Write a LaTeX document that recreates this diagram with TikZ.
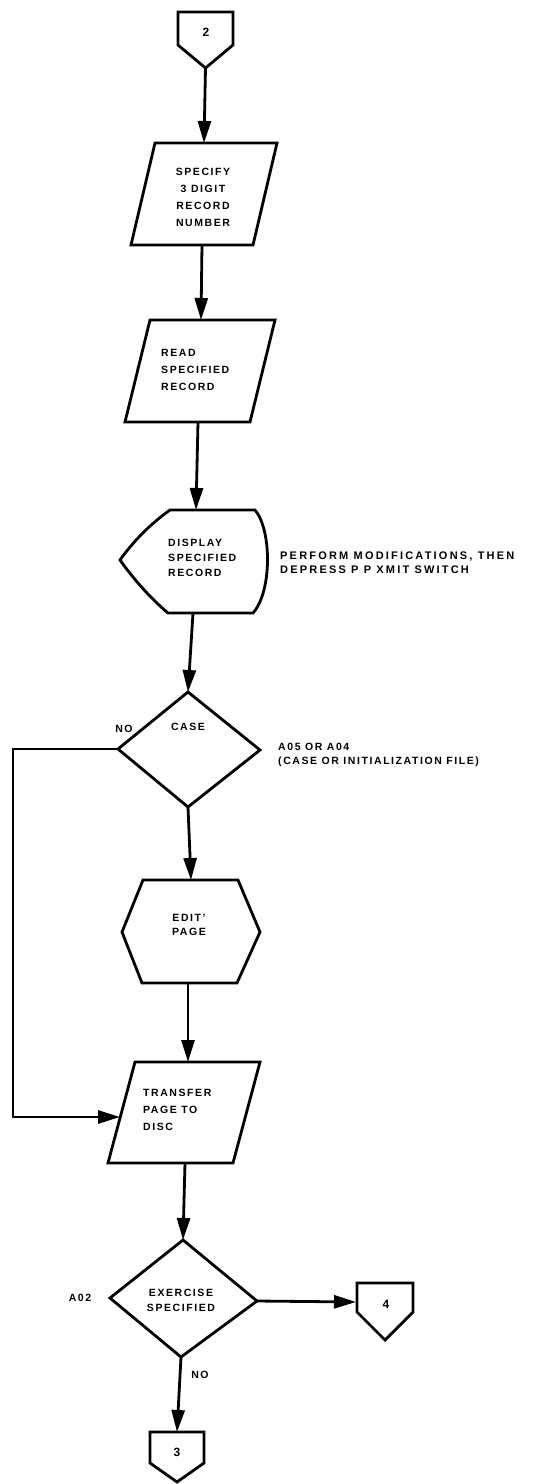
\documentclass[tikz,border=0pt]{standalone}
\usepackage{fontspec}
\setmainfont{Liberation Sans}[LetterSpace=15]
\newfontfamily\widefont{Liberation Sans}[LetterSpace=20]
\usetikzlibrary{arrows.meta}
\tikzset{
  outline/.style={draw=black, line width=2.8pt, line join=miter},
  flow/.style={draw=black, line width=2.8pt, -{Triangle[length=22pt,width=13pt]}},
  txt/.style={font=\bfseries\fontsize{10.5}{17}\selectfont, inner sep=0pt, align=center},
  ltxt/.style={font=\bfseries\fontsize{10.5}{17}\selectfont, inner sep=0pt, align=left, anchor=west},
  digit/.style={font=\bfseries\fontsize{12}{14}\selectfont, inner sep=0pt},
}
\begin{document}
\begin{tikzpicture}[x=1pt,y=-1pt]
\useasboundingbox (0,0) rectangle (538,1484);
% connector 2
\draw[outline] (178,12) -- (233,12) -- (233,45) -- (205.5,68) -- (178,45) -- cycle;
\coordinate (c2s) at (205.5,68);
\node[digit] (c2t) at (206,32) {2};
% parallelogram 1
\draw[outline] (155,143) -- (277,143) -- (253,245) -- (131,245) -- cycle;
\coordinate (p1n) at (204,143);
\coordinate (p1s) at (202,245);
\node[txt] (p1t) at (203,197) {SPECIFY\\3 DIGIT\\RECORD\\NUMBER};
% parallelogram 2
\draw[outline] (150,320) -- (275,320) -- (250,422) -- (125,422) -- cycle;
\coordinate (p2n) at (201,320);
\coordinate (p2s) at (198,422);
\node[ltxt] (p2t) at (161,370) {READ\\SPECIFIED\\RECORD};
% display
\draw[outline] (170,510) -- (255,510) .. controls (272,530) and (272,592) .. (253,613) -- (168,613) .. controls (150,598) and (132,577) .. (120,560) .. controls (132,543) and (150,524) .. (170,510) -- cycle;
\coordinate (dn) at (196,510);
\coordinate (ds) at (193,613);
\node[ltxt, font=\bfseries\fontsize{10.5}{15}\selectfont] (dt) at (168,558) {DISPLAY\\SPECIFIED\\RECORD};
\node[ltxt, font=\widefont\bfseries\fontsize{11}{14}\selectfont] (dnote) at (280,563) {PERFORM MODIFICATIONS, THEN\\DEPRESS P P  XMIT SWITCH};
% diamond CASE
\draw[outline] (188,692) -- (260,750) -- (188,807) -- (118,749) -- cycle;
\coordinate (d1n) at (188,692);
\coordinate (d1s) at (188,807);
\coordinate (d1w) at (118,749);
\node[txt] (d1t) at (188,727) {CASE};
\node[txt] (d1no) at (124,729) {NO};
\node[ltxt, font=\bfseries\fontsize{10.5}{14}\selectfont] (d1note) at (278,755) {A05 OR A04\\(CASE OR INITIALIZATION FILE)};
% hexagon
\draw[outline] (143,880) -- (238,880) -- (260,932) -- (237,983) -- (142,983) -- (122,932) -- cycle;
\coordinate (hn) at (191,880);
\coordinate (hs) at (188,983);
\node[txt, font=\bfseries\fontsize{10.5}{14}\selectfont] (ht) at (189,925) {EDIT'\\PAGE};
% transfer
\draw[outline] (135,1062) -- (260,1062) -- (233,1163) -- (108,1163) -- cycle;
\coordinate (tn) at (188,1062);
\coordinate (ts) at (185,1163);
\coordinate (tw) at (120,1117);
\node[ltxt] (tt) at (143,1110) {TRANSFER\\PAGE TO\\DISC};
% diamond EXERCISE
\draw[outline] (183,1240) -- (257,1301) -- (181,1357) -- (110,1298) -- cycle;
\coordinate (d2n) at (183,1240);
\coordinate (d2e) at (257,1301);
\coordinate (d2s) at (181,1357);
\node[txt, font=\bfseries\fontsize{10.5}{15}\selectfont] (d2t) at (181,1300) {EXERCISE\\SPECIFIED};
\node[txt] (d2a) at (80,1298) {A02};
\node[txt] (d2no) at (200,1375) {NO};
% connector 4
\draw[outline] (357,1283) -- (413,1283) -- (413,1312) -- (385,1340) -- (357,1312) -- cycle;
\coordinate (c4w) at (356,1302);
\node[digit] (c4t) at (386,1304) {4};
% connector 3
\draw[outline] (150,1432) -- (204,1432) -- (204,1463) -- (177,1482) -- (150,1463) -- cycle;
\coordinate (c3n) at (177,1432);
\node[digit] (c3t) at (177,1452) {3};
% connectors
\draw[flow] (c2s) -- (p1n);
\draw[flow] (p1s) -- (p2n);
\draw[flow] (p2s) -- (dn);
\draw[flow] (ds) -- (d1n);
\draw[flow] (d1s) -- (hn);
\draw[flow] (hs) -- (tn);
\draw[flow] (ts) -- (d2n);
\draw[flow] (d2e) -- (c4w);
\draw[flow] (d2s) -- (c3n);
\coordinate (k1) at (13,749);
\coordinate (k2) at (13,1117);
\draw[flow] (d1w) -- (k1) -- (k2) -- (tw);
\end{tikzpicture}
\end{document}
